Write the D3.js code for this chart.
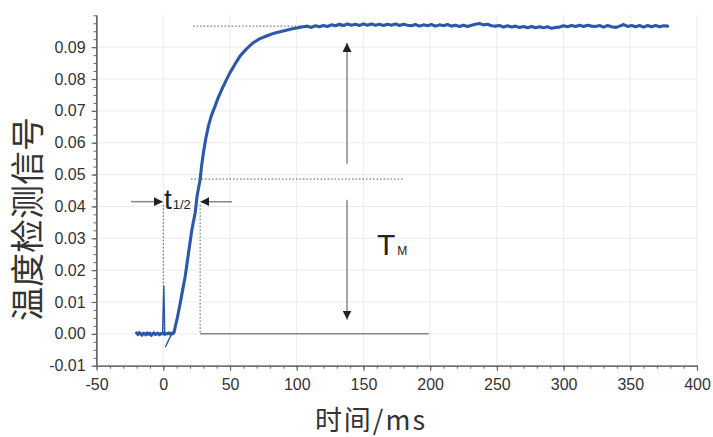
<!DOCTYPE html>
<html>
<head>
<meta charset="utf-8">
<script src="https://cdn.jsdelivr.net/npm/d3@7"></script>
<style>
  body { margin: 0; background: #fff; }
  svg { display: block; }
</style>
</head>
<body>
<div id="chart"></div>
<script>
// temperature signal trace (ms, signal)
var timeMs = [
  -20,-19,-18,-17,-16,-15,-14,-13,-12,-11,-10,-9,-8,-7,-6,-5,-4,-3,-2,-1,0,1,2,3,4,5,6,7,8,
  9,10.5,12.7,14.5,16.4,18.9,21.4,23.9,25.3,26.5,27.6,28.7,30.1,31.7,33.8,36,38.8,41,43.8,47,50,53.5,57.5,62,67.4,72,77.4,83,89.8,96,102,
  105,108,111,114,117,120,123,126,129,132,135,138,141,144,147,150,153,156,159,162,165,168,171,174,177,180,183,186,189,192,195,198,
  201,204,207,210,213,216,219,222,225,228,231,234,237,240,243,246,249,252,255,258,261,264,267,270,273,276,279,282,285,288,291,294,297,
  300,303,306,309,312,315,318,321,324,327,330,333,336,339,342,345,348,351,354,357,360,363,366,369,372,375,378
];
var signal = [
  0.0003,-0.0002,0.0004,0.0000,-0.0004,0.0002,0.0001,-0.0003,0.0003,-0.0001,0.0002,-0.0005,0.0001,0.0003,-0.0002,0.0000,0.0002,-0.0003,0.0001,0.0000,0.0002,-0.0002,0.0001,0.0000,0.0003,-0.0001,0.0002,0.0000,0.0004,
  0.0023,0.0050,0.0097,0.0138,0.0180,0.0254,0.0327,0.0380,0.0432,0.0460,0.0484,0.0528,0.0569,0.0610,0.0652,0.0685,0.0715,0.0740,0.0767,0.0795,0.0820,0.0845,0.0872,0.0893,0.0914,0.0926,0.0935,0.0944,0.0951,0.0957,0.0962,
  0.0964,0.0966,0.0962,0.0967,0.0964,0.0968,0.0965,0.0970,0.0967,0.0972,0.0968,0.0973,0.0969,0.0972,0.0968,0.0973,0.0969,0.0973,0.0969,0.0972,0.0968,0.0972,0.0969,0.0973,0.0968,0.0972,0.0969,0.0967,0.0971,0.0966,0.0970,0.0967,
  0.0971,0.0966,0.0970,0.0967,0.0971,0.0966,0.0969,0.0965,0.0969,0.0965,0.0969,0.0972,0.0974,0.0970,0.0972,0.0967,0.0966,0.0968,0.0963,0.0967,0.0963,0.0966,0.0962,0.0965,0.0961,0.0965,0.0961,0.0964,0.0961,0.0964,0.0959,0.0962,0.0963,
  0.0967,0.0964,0.0968,0.0965,0.0969,0.0965,0.0969,0.0966,0.0965,0.0968,0.0963,0.0968,0.0964,0.0962,0.0966,0.0971,0.0965,0.0968,0.0964,0.0968,0.0963,0.0968,0.0964,0.0968,0.0964,0.0967,0.0966
];
// trigger spike and dip near t=0
var spikeTime = [-0.6, 0.4, 1.1];
var spikeSignal = [0.0002, 0.0152, 0.0002];
var dipTime = [1.5, 4.5, 7.5];
var dipSignal = [-0.0042, -0.0015, 0.0008];

// annotation values
var plateauLevel = 0.0966;
var halfLevel = 0.0486;
var halfTime = 27.6;
var tmArrowTime = 137.7;

var xTicks = [-50,0,50,100,150,200,250,300,350,400];
var yTicks = [-0.01,0,0.01,0.02,0.03,0.04,0.05,0.06,0.07,0.08,0.09];

var width = 713, height = 437;
var margin = {left: 96.6, right: 16, top: 15.3, bottom: 71.3};

var svg = d3.select("#chart").append("svg")
  .attr("width", width).attr("height", height);

var x = d3.scaleLinear().domain([-50, 400]).range([margin.left, width - margin.right]);
var y = d3.scaleLinear().domain([-0.01, 0.1]).range([height - margin.bottom, margin.top]);

// grid
svg.append("g").selectAll("line").data(xTicks.slice(1)).enter().append("line")
  .attr("x1", d => x(d)).attr("x2", d => x(d))
  .attr("y1", y(0.1)).attr("y2", y(-0.01))
  .attr("stroke", "#ebebeb").attr("stroke-width", 1);
svg.append("g").selectAll("line").data(yTicks.slice(1)).enter().append("line")
  .attr("x1", x(-50)).attr("x2", x(400))
  .attr("y1", d => y(d)).attr("y2", d => y(d))
  .attr("stroke", "#ebebeb").attr("stroke-width", 1);

// axes
var xMinor = d3.range(-50, 401, 10);
var yMinor = d3.range(-0.01, 0.1001, 0.0025);
var tickFont = "'Liberation Sans', Arial, sans-serif";

svg.append("g").attr("transform", "translate(0," + y(-0.01) + ")")
  .call(d3.axisBottom(x).tickValues(xMinor).tickSize(3).tickSizeOuter(0).tickFormat(""))
  .call(g => g.selectAll("line,path").attr("stroke", "#666"));
svg.append("g").attr("transform", "translate(0," + y(-0.01) + ")")
  .call(d3.axisBottom(x).tickValues(xTicks).tickSize(5).tickSizeOuter(0).tickPadding(8).tickFormat(d => String(d)))
  .call(g => g.selectAll("line,path").attr("stroke", "#666").attr("stroke-width", 1.2))
  .call(g => g.selectAll("text").attr("fill", "#333")
    .style("font-family", tickFont).style("font-size", "16px"));

svg.append("g").attr("transform", "translate(" + x(-50) + ",0)")
  .call(d3.axisLeft(y).tickValues(yMinor).tickSize(3).tickSizeOuter(0).tickFormat(""))
  .call(g => g.selectAll("line,path").attr("stroke", "#666"));
svg.append("g").attr("transform", "translate(" + x(-50) + ",0)")
  .call(d3.axisLeft(y).tickValues(yTicks).tickSize(5).tickSizeOuter(0).tickPadding(6)
    .tickFormat(d => d.toFixed(2)))
  .call(g => g.select("path").attr("d", "M0," + y(0.1) + "V" + y(-0.01)))
  .call(g => g.selectAll("line,path").attr("stroke", "#666").attr("stroke-width", 1.2))
  .call(g => g.selectAll("text").attr("fill", "#333")
    .style("font-family", tickFont).style("font-size", "16px"));

// axis titles
svg.append("text")
  .attr("transform", "translate(40," + 219 + ") rotate(-90)")
  .attr("text-anchor", "middle")
  .attr("fill", "#333")
  .style("font-family", "'Noto Sans CJK SC', sans-serif")
  .style("font-size", "34px")
  .text("温度检测信号");
svg.append("text")
  .attr("x", 371).attr("y", 430)
  .attr("text-anchor", "middle")
  .attr("fill", "#333")
  .style("font-family", "'Noto Sans CJK SC', sans-serif")
  .style("font-size", "27px")
  .style("letter-spacing", "2px")
  .text("时间/ms");

// annotations
var dotted = (x1, y1, x2, y2) => svg.append("line")
  .attr("x1", x(x1)).attr("y1", y(y1)).attr("x2", x(x2)).attr("y2", y(y2))
  .attr("stroke", "#555").attr("stroke-width", 1).attr("stroke-dasharray", "1.5,2");

dotted(22.3, plateauLevel, tmArrowTime, plateauLevel);
dotted(20.8, halfLevel, 179.7, halfLevel);
dotted(0, 0.0405, 0, 0);
dotted(halfTime, 0.0405, halfTime, 0);

svg.append("line")
  .attr("x1", x(halfTime)).attr("x2", x(199))
  .attr("y1", y(0)).attr("y2", y(0))
  .attr("stroke", "#888").attr("stroke-width", 1.5);

var defs = svg.append("defs");
defs.append("marker")
  .attr("id", "head").attr("viewBox", "0 0 10 10")
  .attr("refX", 10).attr("refY", 5)
  .attr("markerWidth", 9).attr("markerHeight", 9)
  .attr("markerUnits", "userSpaceOnUse")
  .attr("orient", "auto")
  .append("path").attr("d", "M0,0L10,5L0,10Z").attr("fill", "#222");

var arrow = (x1, y1, x2, y2) => svg.append("line")
  .attr("x1", x(x1)).attr("y1", y(y1)).attr("x2", x(x2)).attr("y2", y(y2))
  .attr("stroke", "#888").attr("stroke-width", 1.5)
  .attr("marker-end", "url(#head)");

arrow(tmArrowTime, 0.0534, tmArrowTime, 0.0913);
arrow(tmArrowTime, 0.0421, tmArrowTime, 0.0045);
arrow(-24.2, 0.0415, -0.3, 0.0415);
arrow(51.5, 0.0415, halfTime + 0.2, 0.0415);

// labels t1/2 and TM
var t12 = svg.append("text").attr("x", 164).attr("y", 209)
  .attr("fill", "#222").style("font-family", tickFont);
t12.append("tspan").style("font-size", "28px").text("t");
t12.append("tspan").attr("dx", 1).style("font-size", "13px").text("1/2");

var tm = svg.append("text").attr("x", 377).attr("y", 255)
  .attr("fill", "#222").style("font-family", tickFont);
tm.append("tspan").style("font-size", "30px").text("T");
tm.append("tspan").attr("dx", 2).style("font-size", "12px").text("M");

// trace
var line = d3.line().x(d => x(d[0])).y(d => y(d[1]));
var curveColor = "#2d58a8";

svg.append("path")
  .datum(d3.zip(spikeTime, spikeSignal))
  .attr("d", line).attr("fill", "none")
  .attr("stroke", curveColor).attr("stroke-width", 1.4);
svg.append("path")
  .datum(d3.zip(dipTime, dipSignal))
  .attr("d", line).attr("fill", "none")
  .attr("stroke", curveColor).attr("stroke-width", 1.4);

svg.append("path")
  .datum(d3.zip(timeMs, signal))
  .attr("d", line).attr("fill", "none")
  .attr("stroke", curveColor).attr("stroke-width", 3.1)
  .attr("stroke-linejoin", "round").attr("stroke-linecap", "round");
</script>
</body>
</html>
